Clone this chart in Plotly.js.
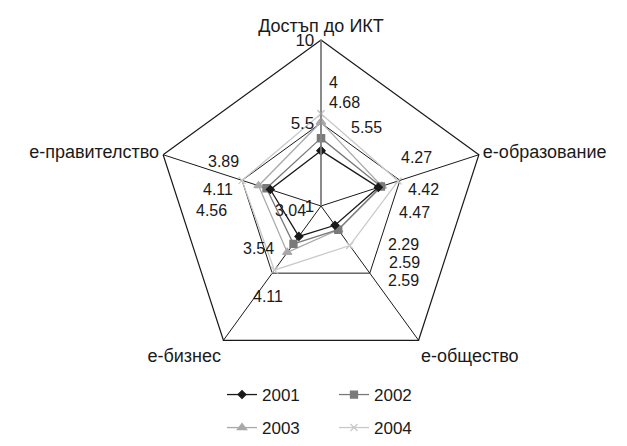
<!DOCTYPE html>
<html>
<head>
<meta charset="utf-8">
<script src="https://cdn.plot.ly/plotly-3.0.1.min.js"></script>
<style>html,body{margin:0;padding:0;background:#fff;}#chart{width:627px;height:446px;}</style>
</head>
<body>
<div id="chart"></div>
<script>
// ---- data ----
var categories = ["Достъп до ИКТ", "е-образование", "е-общество", "е-бизнес", "е-правителство"];
var years = ["2001", "2002", "2003", "2004"];
var v2001 = [4, 4.27, 2.29, 3.04, 3.89];
var v2002 = [4.68, 4.42, 2.59, 3.54, 4.11];
var v2003 = [5.55, 4.47, 2.59, 4.11, 4.56];
var v2004 = [6.0, 5.4, 3.65, 5.3, 5.5];
var radialTicks = [1, 5.5, 10];

// ---- styling ----
var W = 627, H = 446;
var FONT = "Liberation Sans, Arial, sans-serif";
var FS = 17, FS_LBL = 16;
var styles = [
  {color: "#1a1a1a", symbol: "diamond", size: 6},
  {color: "#7a7a7a", symbol: "square", size: 7},
  {color: "#a9a9a9", symbol: "triangle-up", size: 8},
  {color: "#c9c9c9", symbol: "x-thin-open", size: 7}
];
var series = [v2001, v2002, v2003, v2004];
function closeLoop(a) { return a.concat([a[0]]); }

var traces = series.map(function (vals, i) {
  return {
    type: "scatterpolar",
    r: closeLoop(vals),
    theta: closeLoop(categories),
    name: years[i],
    mode: "lines+markers",
    line: {color: styles[i].color, width: 1.3},
    marker: {color: styles[i].color, symbol: styles[i].symbol, size: styles[i].size,
             line: {color: styles[i].color, width: 1.3}},
    legend: i < 2 ? "legend" : "legend2",
    hoverinfo: "skip"
  };
});
// draw lighter series first so darker ones stay on top
traces.reverse();

// data-label positions (left edge x, centre y in pixels) for 2001, 2002, 2003 on each axis
var labelPos = [
  [[328, 83], [328, 102], [350, 127]],
  [[400, 157], [407, 189], [398, 212]],
  [[387, 244], [388, 262], [387, 280]],
  [[274, 211], [242, 249], [252, 296]],
  [[207, 162], [202, 189], [195, 211]]
];
var annotations = [];
categories.forEach(function (c, ci) {
  [v2001, v2002, v2003].forEach(function (vals, si) {
    var p = labelPos[ci][si];
    annotations.push({
      xref: "paper", yref: "paper",
      x: p[0] / W, y: 1 - p[1] / H,
      xanchor: "left", yanchor: "middle",
      text: String(vals[ci]), showarrow: false, borderpad: 0,
      font: {family: FONT, size: FS_LBL, color: "#1a1a1a"}
    });
  });
});

var cx = 321, cy = 206, R = 166;
var legendCommon = {
  orientation: "h", xanchor: "left",
  entrywidth: 67, entrywidthmode: "pixels", traceorder: "reversed",
  font: {family: FONT, size: FS, color: "#1a1a1a"}, bgcolor: "rgba(0,0,0,0)"
};
var layout = {
  width: W, height: H,
  margin: {l: 0, r: 0, t: 0, b: 0},
  paper_bgcolor: "#fff",
  font: {family: FONT, size: FS, color: "#1a1a1a"},
  showlegend: true,
  polar: {
    domain: {x: [(cx - R) / W, (cx + R) / W], y: [1 - (cy + R) / H, 1 - (cy - R) / H]},
    gridshape: "linear",
    bgcolor: "rgba(0,0,0,0)",
    angularaxis: {
      rotation: 90, direction: "clockwise",
      showline: true, linecolor: "#1a1a1a", linewidth: 1.2,
      showgrid: true, gridcolor: "#1a1a1a", gridwidth: 1,
      ticks: "", tickfont: {family: FONT, size: 18, color: "#1a1a1a"}
    },
    radialaxis: {
      range: [1, 10], tickvals: radialTicks, ticktext: radialTicks.map(String),
      angle: 90, side: "counterclockwise", tickangle: 90,
      showline: true, linecolor: "#8a8a8a", linewidth: 1.5,
      showgrid: true, gridcolor: "#1a1a1a", gridwidth: 1,
      ticks: "", tickfont: {family: FONT, size: FS, color: "#1a1a1a"}
    }
  },
  legend: Object.assign({}, legendCommon, {x: 222 / W, y: 1 - 377 / H, yanchor: "top"}),
  legend2: Object.assign({}, legendCommon, {x: 222 / W, y: 0, yanchor: "bottom"}),
  annotations: annotations
};

Plotly.newPlot("chart", traces, layout, {displayModeBar: false, staticPlot: true});
</script>
</body>
</html>
